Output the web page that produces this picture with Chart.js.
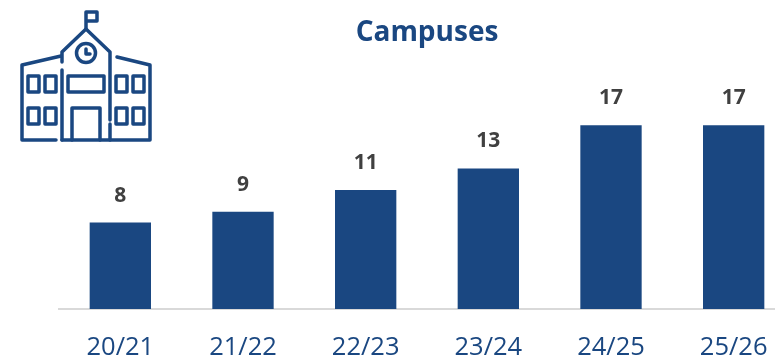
<!DOCTYPE html>
<html>
<head>
<meta charset="utf-8">
<title>Campuses</title>
<script src="https://cdn.jsdelivr.net/npm/chart.js@4"></script>
<style>
  html, body { margin: 0; padding: 0; width: 775px; height: 358px; overflow: hidden; background: #fff; }
  #wrap { position: relative; width: 795px; height: 358px; }
  #icon { position: absolute; left: 0; top: 0; }
</style>
</head>
<body>
<div id="wrap">
  <canvas id="campusChart" width="795" height="358"></canvas>
  <svg id="icon" width="170" height="150" fill="none" stroke="#1a4781" stroke-width="3.5" stroke-linecap="round" stroke-linejoin="round">
    <path d="M86 29V12H97V21H86"/>
    <path d="M62 70V140M62 62V52L86 29L110 52V120M110 124V140"/>
    <circle cx="86" cy="53" r="9.5"/>
    <path d="M86 49V54H90"/>
    <path d="M61 56L22 65V140H56M117 57L150 65V140H62"/>
    <rect x="28" y="76" width="11" height="16"/>
    <rect x="45" y="76" width="11" height="16"/>
    <rect x="28" y="108" width="11" height="16"/>
    <rect x="45" y="108" width="11" height="16"/>
    <rect x="116" y="76" width="11" height="16"/>
    <rect x="133" y="76" width="11" height="16"/>
    <rect x="116" y="108" width="11" height="16"/>
    <rect x="133" y="108" width="11" height="16"/>
    <rect x="68" y="76" width="36" height="16"/>
    <path d="M72 140V108H100V140"/>
  </svg>
</div>
<script>
const chartTitle = 'Campuses';
const categories = ['20/21', '21/22', '22/23', '23/24', '24/25', '25/26'];
const campuses = [8, 9, 11, 13, 17, 17];

// number above each bar
const valueLabels = {
  id: 'valueLabels',
  afterDatasetsDraw(chart) {
    const ctx = chart.ctx;
    const bars = chart.getDatasetMeta(0).data;
    ctx.save();
    ctx.font = 'bold 21px "Open Sans"';
    ctx.fillStyle = '#404040';
    ctx.textAlign = 'center';
    ctx.textBaseline = 'middle';
    bars.forEach((bar, i) => {
      ctx.fillText(campuses[i], bar.x, bar.y - 27);
    });
    ctx.restore();
  }
};

new Chart(document.getElementById('campusChart'), {
  type: 'bar',
  data: {
    labels: categories,
    datasets: [{
      data: campuses,
      backgroundColor: '#1a4781',
      categoryPercentage: 1,
      barPercentage: 0.5
    }]
  },
  options: {
    responsive: false,
    animation: false,
    layout: { padding: { left: 59, right: 0, top: 0, bottom: 0 } },
    plugins: {
      legend: { display: false },
      tooltip: { enabled: false },
      title: {
        display: true,
        text: chartTitle,
        color: '#1a4781',
        font: { family: '"Open Sans"', size: 28, weight: 'bold' },
        padding: { top: 16, bottom: 0 }
      }
    },
    scales: {
      x: {
        grid: { display: false },
        border: { color: '#d9d9d9', width: 2 },
        ticks: {
          color: '#1a4781',
          font: { family: '"Open Sans"', size: 25.5 },
          autoSkip: false,
          maxRotation: 0,
          padding: 15
        },
        afterFit(scale) { scale.height = 49; }
      },
      y: {
        display: false,
        min: 0,
        max: 24
      }
    }
  },
  plugins: [valueLabels]
});
</script>
</body>
</html>
